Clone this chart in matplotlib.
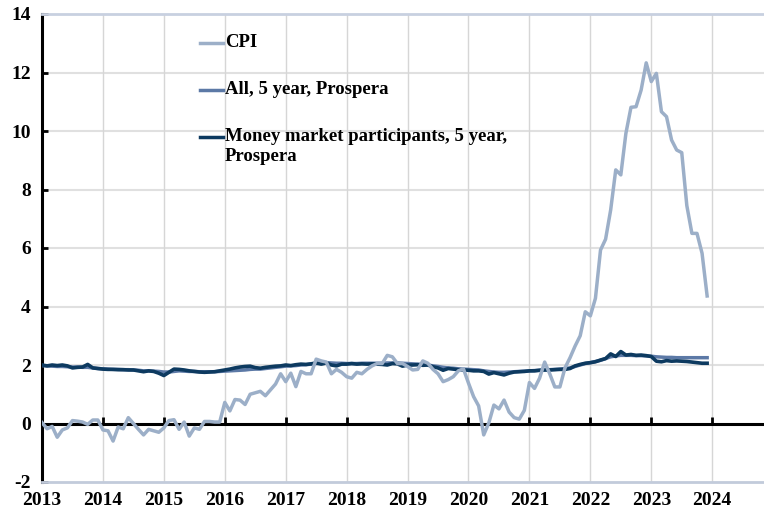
import numpy as np
import matplotlib
matplotlib.use("Agg")
import matplotlib.pyplot as plt
from matplotlib.lines import Line2D

plt.rcParams['font.family'] = ['Liberation Serif', 'DejaVu Serif']
plt.rcParams['font.weight'] = 'bold'
plt.rcParams['axes.unicode_minus'] = False

# 月度数据, 2013-01 ... 2023-12
cpi = [
    0.03, -0.18, -0.10, -0.47, -0.22, -0.15, 0.10, 0.08, 0.05, -0.03, 0.12, 0.12,
    -0.22, -0.25, -0.60, -0.12, -0.18, 0.20, 0.00, -0.20, -0.39, -0.20, -0.25, -0.30,
    -0.15, 0.10, 0.13, -0.20, 0.05, -0.43, -0.15, -0.20, 0.07, 0.07, 0.05, 0.05,
    0.72, 0.43, 0.82, 0.80, 0.65, 1.00, 1.05, 1.10, 0.95, 1.15, 1.35, 1.70,
    1.43, 1.72, 1.26, 1.78, 1.70, 1.70, 2.20, 2.14, 2.10, 1.70, 1.85, 1.75,
    1.60, 1.55, 1.75, 1.70, 1.85, 1.97, 2.05, 2.05, 2.33, 2.28, 2.05, 2.05,
    1.95, 1.83, 1.85, 2.14, 2.06, 1.85, 1.70, 1.43, 1.50, 1.60, 1.80, 1.87,
    1.38, 0.92, 0.60, -0.39, 0.02, 0.63, 0.50, 0.80, 0.39, 0.20, 0.15, 0.45,
    1.40, 1.20, 1.55, 2.10, 1.70, 1.25, 1.25, 1.90, 2.25, 2.65, 3.00, 3.82,
    3.68, 4.28, 5.93, 6.30, 7.30, 8.67, 8.50, 9.92, 10.81, 10.83, 11.40, 12.33,
    11.69, 11.97, 10.66, 10.49, 9.69, 9.35, 9.26, 7.45, 6.50, 6.50, 5.82, 4.36,
]

all_5y = [
    1.98, 1.97, 1.96, 1.95, 1.95, 1.94, 1.93, 1.93, 1.92, 1.92, 1.90, 1.88,
    1.87, 1.86, 1.85, 1.85, 1.84, 1.84, 1.83, 1.82, 1.80, 1.80, 1.79, 1.78,
    1.76, 1.76, 1.78, 1.80, 1.79, 1.78, 1.78, 1.77, 1.77, 1.77, 1.77, 1.78,
    1.79, 1.80, 1.81, 1.82, 1.83, 1.85, 1.86, 1.86, 1.88, 1.90, 1.92, 1.94,
    1.96, 1.97, 1.98, 2.00, 2.01, 2.03, 2.05, 2.07, 2.08, 2.07, 2.06, 2.06,
    2.05, 2.05, 2.05, 2.06, 2.06, 2.06, 2.06, 2.06, 2.07, 2.07, 2.07, 2.06,
    2.05, 2.04, 2.03, 2.02, 2.00, 1.97, 1.95, 1.92, 1.90, 1.89, 1.87, 1.86,
    1.85, 1.84, 1.83, 1.80, 1.78, 1.76, 1.75, 1.75, 1.76, 1.77, 1.78, 1.79,
    1.80, 1.81, 1.82, 1.83, 1.84, 1.85, 1.86, 1.88, 1.90, 1.95, 2.00, 2.05,
    2.08, 2.12, 2.16, 2.22, 2.28, 2.31, 2.33, 2.33, 2.33, 2.32, 2.32, 2.31,
    2.30, 2.28, 2.27, 2.26, 2.26, 2.25, 2.25, 2.25, 2.25, 2.25, 2.25, 2.25,
]

mmp_5y = [
    2.00, 1.97, 2.00, 1.98, 2.00, 1.97, 1.90, 1.92, 1.93, 2.02, 1.90, 1.88,
    1.86, 1.85, 1.85, 1.84, 1.84, 1.83, 1.83, 1.80, 1.77, 1.80, 1.78, 1.72,
    1.64, 1.75, 1.86, 1.85, 1.83, 1.80, 1.78, 1.76, 1.75, 1.76, 1.77, 1.80,
    1.83, 1.86, 1.90, 1.93, 1.95, 1.96, 1.91, 1.89, 1.92, 1.94, 1.96, 1.97,
    2.00, 1.98, 2.01, 2.03, 2.02, 2.04, 2.07, 2.03, 2.07, 2.00, 1.97, 2.03,
    2.03, 2.05, 2.03, 2.04, 2.03, 2.04, 2.03, 2.02, 2.00, 2.05, 2.04, 1.96,
    2.00, 2.00, 2.01, 1.99, 2.00, 1.94, 1.90, 1.82, 1.88, 1.86, 1.84, 1.83,
    1.82, 1.80, 1.80, 1.78, 1.69, 1.74, 1.70, 1.66, 1.72, 1.76, 1.77, 1.78,
    1.80, 1.80, 1.82, 1.83, 1.83, 1.84, 1.85, 1.85, 1.88, 1.97, 2.02, 2.06,
    2.08, 2.11, 2.17, 2.22, 2.38, 2.29, 2.46, 2.34, 2.36, 2.33, 2.34, 2.32,
    2.29, 2.13, 2.11, 2.15, 2.13, 2.14, 2.13, 2.12, 2.10, 2.08, 2.06, 2.06,
]

years = list(range(2013, 2025))
labels = ['CPI', 'All, 5 year, Prospera', 'Money market participants, 5 year,\nProspera']
colors = ['#9cafc8', '#5c79a6', '#0d3a60']

x = 2013 + np.arange(len(cpi)) / 12

W, H = 764, 514
fig = plt.figure(figsize=(W / 100, H / 100), dpi=100)
ax = fig.add_axes([42 / W, 1 - 482 / H, 1 - 42 / W, 468 / H])

# 网格
for yv in range(2, 14, 2):
    ax.axhline(yv, color='#e0e0e0', lw=1.5, zorder=0)
for yr in years:
    ax.axvline(yr, color='#d6d6d6', lw=1, zorder=0)

ax.plot(x, all_5y, color=colors[1], lw=2.5, zorder=3)
ax.plot(x, mmp_5y, color=colors[2], lw=2.6, zorder=4)
ax.plot(x, cpi, color=colors[0], lw=2.5, zorder=5)

ax.set_xlim(2013, 2024.85)
ax.set_ylim(-2, 14)
ax.set_yticks(range(-2, 15, 2))
ax.set_xticks(years)
ax.set_xticklabels([str(y) for y in years])

ax.spines['right'].set_visible(False)
ax.spines['top'].set_color('#c8d0e0')
ax.spines['top'].set_linewidth(2)
ax.spines['bottom'].set_color('#c2cbdb')
ax.spines['bottom'].set_linewidth(2)
ax.spines['left'].set_color('black')
ax.spines['left'].set_linewidth(2.2)

ax.tick_params(axis='y', direction='in', length=4, width=2, labelsize=14, pad=8)
ax.tick_params(axis='x', length=0, labelsize=14, pad=7)

# 零线及刻度
zero = ax.secondary_xaxis(2 / 16)
zero.set_xticks(years)
zero.spines['bottom'].set_color('black')
zero.spines['bottom'].set_linewidth(2.2)
zero.tick_params(direction='in', length=5, width=2, labelbottom=False)

# 图例 (手动), 像素位置
leg_y = [43, 90, 137]
for lab, c, yy in zip(labels, colors, leg_y):
    fy = 1 - yy / H
    fig.add_artist(Line2D([200 / W, 223 / W], [fy, fy], color=c, lw=2.5,
                          transform=fig.transFigure))
    fig.text(225 / W, 1 - (yy - 9) / H, lab, fontsize=13.5, fontweight='bold',
             va='top', ha='left', linespacing=1.2)

fig.savefig('out.png', dpi=100)
